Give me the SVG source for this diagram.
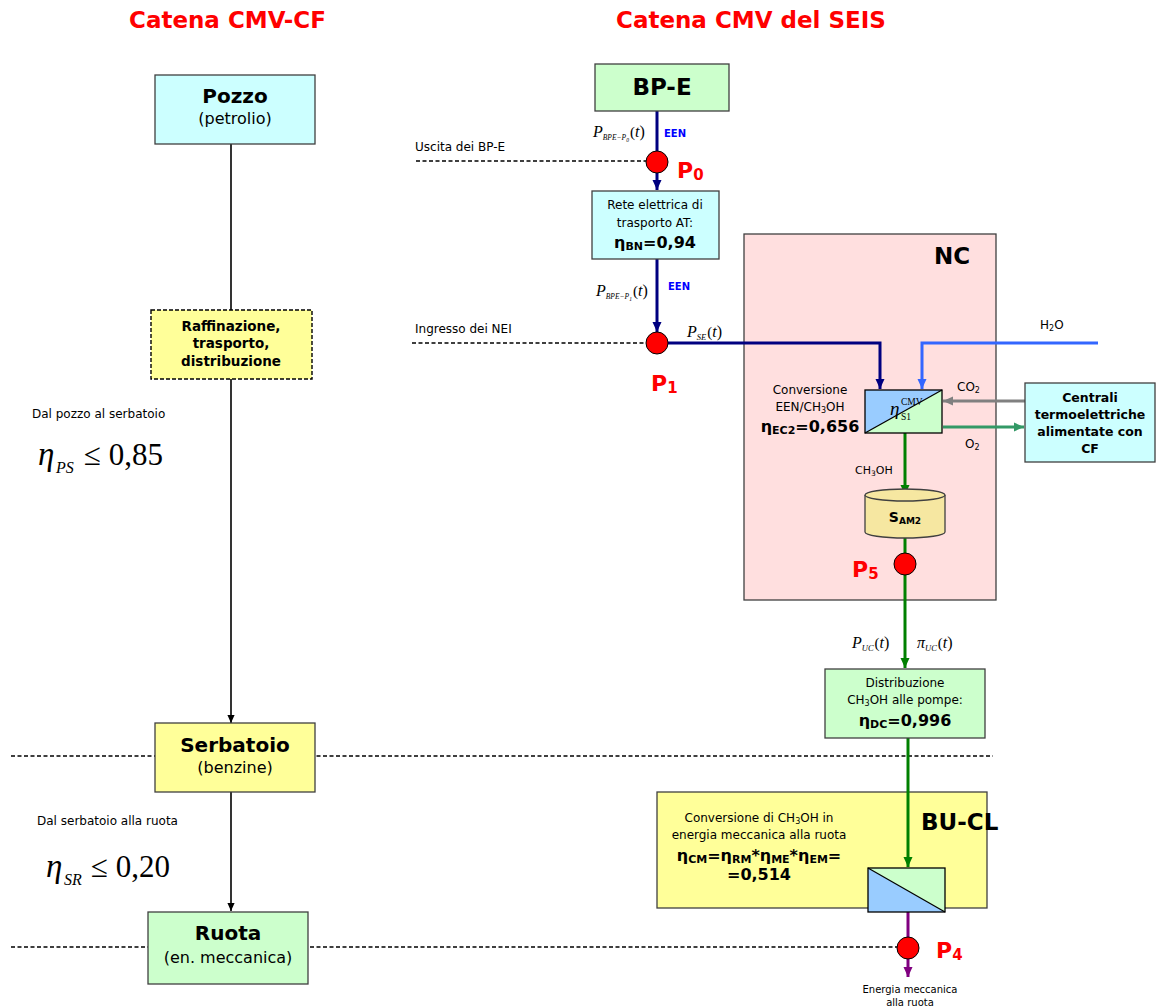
<svg xmlns="http://www.w3.org/2000/svg" width="1156" height="1008" viewBox="0 0 1156 1008">
<style>
  .t{font-family:"DejaVu Sans","Liberation Sans",sans-serif;fill:#000}
  .b{font-weight:bold}
  .m{font-family:"Liberation Serif","Times New Roman",serif;font-style:italic;fill:#000}
  .mr{font-family:"Liberation Serif","Times New Roman",serif;font-style:normal}
  .box{stroke:#404040;stroke-width:1.3}
  .title{font-family:"DejaVu Sans","Liberation Sans",sans-serif;font-weight:bold;font-size:23px;fill:#ff0000}
  .pl{font-family:"DejaVu Sans","Liberation Sans",sans-serif;font-weight:bold;font-size:22px;fill:#ff0000}
  .dash{stroke:#000;stroke-width:1.5;stroke-dasharray:4 2.5;fill:none}
  .pt{fill:#ff0000;stroke:#000;stroke-width:1}
  .w3{fill:none;stroke-width:3}
</style>
<defs>
  <marker id="aNavy" viewBox="0 0 10 10" refX="10" refY="5" markerWidth="10" markerHeight="10" markerUnits="userSpaceOnUse" orient="auto"><path d="M0,0.5 L10,5 L0,9.5 z" fill="#000080"/></marker>
  <marker id="aBlue" viewBox="0 0 10 10" refX="10" refY="5" markerWidth="10" markerHeight="10" markerUnits="userSpaceOnUse" orient="auto"><path d="M0,0.5 L10,5 L0,9.5 z" fill="#3366ff"/></marker>
  <marker id="aGray" viewBox="0 0 10 10" refX="10" refY="5" markerWidth="10" markerHeight="10" markerUnits="userSpaceOnUse" orient="auto"><path d="M0,0.5 L10,5 L0,9.5 z" fill="#808080"/></marker>
  <marker id="aSea" viewBox="0 0 10 10" refX="10" refY="5" markerWidth="10" markerHeight="10" markerUnits="userSpaceOnUse" orient="auto"><path d="M0,0.5 L10,5 L0,9.5 z" fill="#339966"/></marker>
  <marker id="aGreen" viewBox="0 0 10 10" refX="10" refY="5" markerWidth="10" markerHeight="10" markerUnits="userSpaceOnUse" orient="auto"><path d="M0,0.5 L10,5 L0,9.5 z" fill="#008000"/></marker>
  <marker id="aPurple" viewBox="0 0 10 10" refX="10" refY="5" markerWidth="10" markerHeight="10" markerUnits="userSpaceOnUse" orient="auto"><path d="M0,0.5 L10,5 L0,9.5 z" fill="#800080"/></marker>
  <marker id="aBlack" viewBox="0 0 10 10" refX="10" refY="5" markerWidth="8" markerHeight="8" markerUnits="userSpaceOnUse" orient="auto"><path d="M0,0.5 L10,5 L0,9.5 z" fill="#000"/></marker>
</defs>

<rect width="1156" height="1008" fill="#fff"/>

<!-- column headings -->
<text class="title" x="129" y="28">Catena CMV-CF</text>
<text class="title" x="616" y="28">Catena CMV del SEIS</text>

<!-- container: NC -->
<g id="nc">
  <rect class="box" x="744" y="234" width="252" height="366" fill="#ffdfdf"/>
  <text class="t b" x="934" y="264" font-size="23">NC</text>
</g>

<!-- container: BU-CL -->
<g id="bucl">
  <rect class="box" x="657" y="792" width="330" height="116" fill="#ffff99"/>
  <text class="t b" x="921" y="830" font-size="23">BU-CL</text>
  <text class="t" x="759" y="822" font-size="12" text-anchor="middle">Conversione di CH<tspan font-size="8" dy="2">3</tspan><tspan dy="-2">OH in</tspan></text>
  <text class="t" x="759" y="839" font-size="12" text-anchor="middle">energia meccanica alla ruota</text>
  <text class="t b" x="759" y="861" font-size="16" text-anchor="middle">η<tspan font-size="11" dy="2">CM</tspan><tspan dy="-2">=η</tspan><tspan font-size="11" dy="2">RM</tspan><tspan dy="-2">*η</tspan><tspan font-size="11" dy="2">ME</tspan><tspan dy="-2">*η</tspan><tspan font-size="11" dy="2">EM</tspan><tspan dy="-2">=</tspan></text>
  <text class="t b" x="759" y="880" font-size="16" text-anchor="middle">=0,514</text>
</g>

<!-- connectors -->
<g id="connectors">
  <!-- reference levels -->
  <line class="dash" x1="416" y1="161" x2="646" y2="161"/>
  <line class="dash" x1="412" y1="343" x2="646" y2="343"/>
  <line class="dash" x1="11" y1="756" x2="993" y2="756"/>
  <line class="dash" x1="11" y1="947" x2="897" y2="947"/>

  <!-- fossil fuel chain -->
  <line x1="231" y1="144" x2="231" y2="310" stroke="#000" stroke-width="1.6"/>
  <line x1="231" y1="379" x2="231" y2="723" stroke="#000" stroke-width="1.6" marker-end="url(#aBlack)"/>
  <line x1="231" y1="792" x2="231" y2="911" stroke="#000" stroke-width="1.6" marker-end="url(#aBlack)"/>

  <!-- electric energy -->
  <line class="w3" x1="657" y1="111" x2="657" y2="151" stroke="#000080"/>
  <line class="w3" x1="657" y1="173" x2="657" y2="190" stroke="#000080" marker-end="url(#aNavy)"/>
  <line class="w3" x1="657" y1="259" x2="657" y2="332" stroke="#000080" marker-end="url(#aNavy)"/>
  <polyline class="w3" points="668,343 880,343 880,389" stroke="#000080" marker-end="url(#aNavy)"/>

  <!-- water -->
  <polyline class="w3" points="1098,343 922,343 922,389" stroke="#3366ff" marker-end="url(#aBlue)"/>

  <!-- CO2 / O2 exchange -->
  <line class="w3" x1="1025" y1="401" x2="943" y2="401" stroke="#808080" marker-end="url(#aGray)"/>
  <line class="w3" x1="943" y1="427" x2="1024" y2="427" stroke="#339966" marker-end="url(#aSea)"/>

  <!-- methanol -->
  <line class="w3" x1="905" y1="433" x2="905" y2="495" stroke="#008000" marker-end="url(#aGreen)"/>
  <line class="w3" x1="905" y1="535" x2="905" y2="668" stroke="#008000" marker-end="url(#aGreen)"/>
  <line class="w3" x1="908" y1="738" x2="908" y2="867" stroke="#008000" marker-end="url(#aGreen)"/>

  <!-- mechanical energy -->
  <line class="w3" x1="908" y1="912" x2="908" y2="977" stroke="#800080" marker-end="url(#aPurple)"/>

  <!-- connector labels -->
  <text class="t" x="415" y="151" font-size="12">Uscita dei BP-E</text>
  <text class="t" x="415" y="333" font-size="12">Ingresso dei NEI</text>
  <text class="m" x="593" y="137" font-size="16">P<tspan font-size="7.5" dy="3">BPE−P</tspan><tspan font-size="5.5" dy="1.5">0</tspan><tspan class="mr" font-size="15" dy="-4.5" dx="1">(</tspan>t<tspan class="mr">)</tspan></text>
  <text class="t b" x="664" y="137" font-size="10" style="fill:#0000ff">EEN</text>
  <text class="m" x="596" y="296" font-size="16">P<tspan font-size="7.5" dy="3">BPE−P</tspan><tspan font-size="5.5" dy="1.5">1</tspan><tspan class="mr" font-size="15" dy="-4.5" dx="1">(</tspan>t<tspan class="mr">)</tspan></text>
  <text class="t b" x="668" y="290" font-size="10" style="fill:#0000ff">EEN</text>
  <text class="m" x="687" y="337" font-size="16">P<tspan font-size="8.5" dy="3">SE</tspan><tspan class="mr" font-size="15" dy="-3" dx="1">(</tspan>t<tspan class="mr">)</tspan></text>
  <text class="t" x="1040" y="329" font-size="12">H<tspan font-size="8" dy="2">2</tspan><tspan dy="-2">O</tspan></text>
  <text class="t" x="957" y="391" font-size="12">CO<tspan font-size="8" dy="2">2</tspan></text>
  <text class="t" x="965" y="448" font-size="12">O<tspan font-size="8" dy="2">2</tspan></text>
  <text class="t" x="855" y="474" font-size="11">CH<tspan font-size="7.5" dy="2">3</tspan><tspan dy="-2">OH</tspan></text>
  <text class="m" x="852" y="648" font-size="16">P<tspan font-size="8.5" dy="3">UC</tspan><tspan class="mr" font-size="15" dy="-3" dx="1">(</tspan>t<tspan class="mr">)</tspan></text>
  <text class="m" x="917" y="648" font-size="16">π<tspan font-size="8.5" dy="3">UC</tspan><tspan class="mr" font-size="15" dy="-3" dx="1">(</tspan>t<tspan class="mr">)</tspan></text>
  <text class="t" x="910" y="993" font-size="10" text-anchor="middle">Energia meccanica</text>
  <text class="t" x="910" y="1006" font-size="10" text-anchor="middle">alla ruota</text>
</g>

<!-- fossil fuel chain nodes -->
<g id="pozzo">
  <rect class="box" x="155" y="75" width="160" height="69" fill="#ccffff"/>
  <text class="t b" x="235" y="103" font-size="20" text-anchor="middle">Pozzo</text>
  <text class="t" x="235" y="124" font-size="16" text-anchor="middle">(petrolio)</text>
</g>
<g id="raffinazione">
  <rect x="151" y="310" width="161" height="69" fill="#ffff99" stroke="#000" stroke-width="1.4" stroke-dasharray="4 2"/>
  <text class="t b" x="231" y="331" font-size="13.5" text-anchor="middle">Raffinazione,</text>
  <text class="t b" x="231" y="348" font-size="13.5" text-anchor="middle">trasporto,</text>
  <text class="t b" x="231" y="366" font-size="13.5" text-anchor="middle">distribuzione</text>
</g>
<g id="serbatoio">
  <rect class="box" x="155" y="723" width="160" height="69" fill="#ffff99"/>
  <text class="t b" x="235" y="752" font-size="20" text-anchor="middle">Serbatoio</text>
  <text class="t" x="235" y="773" font-size="16" text-anchor="middle">(benzine)</text>
</g>
<g id="ruota">
  <rect class="box" x="148" y="912" width="160" height="72" fill="#ccffcc"/>
  <text class="t b" x="228" y="940" font-size="20" text-anchor="middle">Ruota</text>
  <text class="t" x="228" y="963" font-size="16" text-anchor="middle">(en. meccanica)</text>
</g>

<!-- efficiency notes -->
<g id="eta-ps">
  <text class="t" x="32" y="418" font-size="12">Dal pozzo al serbatoio</text>
  <text class="m" x="38" y="465" font-size="33">η</text>
  <text class="m" x="56" y="473" font-size="16">PS</text>
  <text class="m" x="84" y="465" font-size="31" style="font-style:normal">≤ 0,85</text>
</g>
<g id="eta-sr">
  <text class="t" x="37" y="825" font-size="12">Dal serbatoio alla ruota</text>
  <text class="m" x="46" y="877" font-size="33">η</text>
  <text class="m" x="64" y="885" font-size="16">SR</text>
  <text class="m" x="91" y="877" font-size="31" style="font-style:normal">≤ 0,20</text>
</g>

<!-- SEIS chain nodes -->
<g id="bpe">
  <rect class="box" x="595" y="64" width="134" height="47" fill="#ccffcc"/>
  <text class="t b" x="662" y="95" font-size="23" text-anchor="middle">BP-E</text>
</g>
<g id="p0">
  <circle class="pt" cx="657" cy="162" r="11"/>
  <text class="pl" x="677" y="178">P<tspan font-size="15" dy="2">0</tspan></text>
</g>
<g id="rete">
  <rect class="box" x="592" y="191" width="127" height="68" fill="#ccffff"/>
  <text class="t" x="655" y="209" font-size="12" text-anchor="middle">Rete elettrica di</text>
  <text class="t" x="655" y="227" font-size="12" text-anchor="middle">trasporto AT:</text>
  <text class="t b" x="655" y="248" font-size="16" text-anchor="middle">η<tspan font-size="11" dy="2">BN</tspan><tspan dy="-2">=0,94</tspan></text>
</g>
<g id="p1">
  <circle class="pt" cx="657" cy="343" r="11"/>
  <text class="pl" x="651" y="391">P<tspan font-size="15" dy="2">1</tspan></text>
</g>
<g id="conv-ec2">
  <polygon points="865,390 942,390 865,433" fill="#99ccff"/>
  <polygon points="942,390 942,433 865,433" fill="#ccffcc"/>
  <rect x="865" y="390" width="77" height="43" fill="none" stroke="#000" stroke-width="1.3"/>
  <line x1="865" y1="433" x2="942" y2="390" stroke="#000" stroke-width="1.3"/>
  <text class="m" x="890" y="415" font-size="19">η</text>
  <text class="m" x="901" y="405" font-size="9.5" style="font-style:normal">CMV</text>
  <text class="m" x="901" y="420" font-size="9.5" style="font-style:normal">S1</text>
  <text class="t" x="810" y="394" font-size="12" text-anchor="middle">Conversione</text>
  <text class="t" x="810" y="411" font-size="12" text-anchor="middle">EEN/CH<tspan font-size="8" dy="2">3</tspan><tspan dy="-2">OH</tspan></text>
  <text class="t b" x="810" y="432" font-size="16" text-anchor="middle">η<tspan font-size="11" dy="2">EC2</tspan><tspan dy="-2">=0,656</tspan></text>
</g>
<g id="centrali">
  <rect class="box" x="1025" y="383" width="130" height="79" fill="#ccffff"/>
  <text class="t b" x="1090" y="402" font-size="12.5" text-anchor="middle">Centrali</text>
  <text class="t b" x="1090" y="419" font-size="12.5" text-anchor="middle">termoelettriche</text>
  <text class="t b" x="1090" y="436" font-size="12.5" text-anchor="middle">alimentate con</text>
  <text class="t b" x="1090" y="453" font-size="12.5" text-anchor="middle">CF</text>
</g>
<g id="sam2">
  <path d="M865,495 V532 A40,6 0 0 0 945,532 V495" fill="#f6e7a1" stroke="#404040" stroke-width="1.3"/>
  <ellipse cx="905" cy="495" rx="40" ry="6" fill="#f6e7a1" stroke="#404040" stroke-width="1.3"/>
  <text class="t b" x="905" y="522" font-size="14" text-anchor="middle">S<tspan font-size="9" dy="2">AM2</tspan></text>
</g>
<g id="p5">
  <circle class="pt" cx="905" cy="564" r="11"/>
  <text class="pl" x="852" y="577">P<tspan font-size="15" dy="2">5</tspan></text>
</g>
<g id="distribuzione">
  <rect class="box" x="825" y="669" width="160" height="69" fill="#ccffcc"/>
  <text class="t" x="905" y="687" font-size="12" text-anchor="middle">Distribuzione</text>
  <text class="t" x="905" y="704" font-size="12" text-anchor="middle">CH<tspan font-size="8" dy="2">3</tspan><tspan dy="-2">OH alle pompe:</tspan></text>
  <text class="t b" x="905" y="726" font-size="16" text-anchor="middle">η<tspan font-size="11" dy="2">DC</tspan><tspan dy="-2">=0,996</tspan></text>
</g>
<g id="conv-cm">
  <polygon points="868,868 868,912 945,912" fill="#99ccff"/>
  <polygon points="868,868 945,868 945,912" fill="#ccffcc"/>
  <rect x="868" y="868" width="77" height="44" fill="none" stroke="#000" stroke-width="1.3"/>
  <line x1="868" y1="868" x2="945" y2="912" stroke="#000" stroke-width="1.3"/>
</g>
<g id="p4">
  <circle class="pt" cx="908" cy="948" r="11"/>
  <text class="pl" x="936" y="958">P<tspan font-size="15" dy="2">4</tspan></text>
</g>
</svg>
